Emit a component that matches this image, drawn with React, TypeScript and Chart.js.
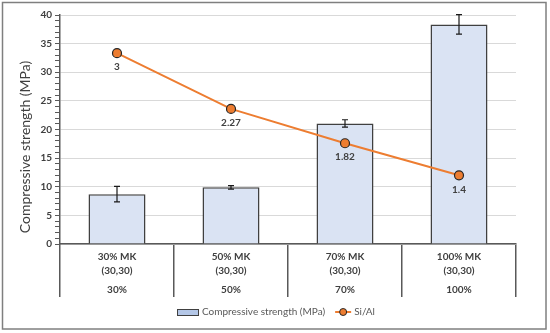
import React, { useEffect, useRef } from 'react';
import { Chart, registerables } from 'chart.js';
Chart.register(...registerables);

const categories = [
  ['30% MK', '(30,30)'],
  ['50% MK', '(30,30)'],
  ['70% MK', '(30,30)'],
  ['100% MK', '(30,30)'],
];
const groupLabels = ['30%', '50%', '70%', '100%'];
const strength = [8.7, 9.9, 21.05, 38.35];
const strengthErr = [1.35, 0.3, 0.65, 1.7];
const siAl = [3, 2.27, 1.82, 1.4];
const siAlLabels = ['3', '2.27', '1.82', '1.4'];
const seriesNames = ['Compressive strength (MPa)', 'Si/Al'];
const yTitle = 'Compressive strength (MPa)';

const FONT = 'Lato, "Open Sans", sans-serif';
const BAR_FILL = '#DAE3F3';
const BAR_EDGE = '#404040';
const LINE_COLOR = '#ED7D31';
const AXIS_COLOR = '#595959';
const TEXT_COLOR = '#404040';

const errorBarsPlugin = {
  id: 'errorBars',
  afterDatasetsDraw(chart: any) {
    const meta = chart.getDatasetMeta(0);
    const y = chart.scales.y;
    const ctx = chart.ctx;
    ctx.save();
    ctx.strokeStyle = '#1a1a1a';
    ctx.lineWidth = 1.2;
    meta.data.forEach((el: any, i: number) => {
      const v = strength[i];
      const e = strengthErr[i];
      const yt = y.getPixelForValue(v + e);
      const yb = y.getPixelForValue(v - e);
      const x = el.x;
      ctx.beginPath();
      ctx.moveTo(x, yt);
      ctx.lineTo(x, yb);
      ctx.moveTo(x - 3, yt);
      ctx.lineTo(x + 3, yt);
      ctx.moveTo(x - 3, yb);
      ctx.lineTo(x + 3, yb);
      ctx.stroke();
    });
    ctx.restore();
  },
};

const lineLabelsPlugin = {
  id: 'lineLabels',
  afterDatasetsDraw(chart: any) {
    const meta = chart.getDatasetMeta(1);
    const ctx = chart.ctx;
    ctx.save();
    ctx.font = `bold 10px ${FONT}`;
    ctx.fillStyle = TEXT_COLOR;
    ctx.textAlign = 'center';
    ctx.textBaseline = 'middle';
    meta.data.forEach((el: any, i: number) => {
      ctx.fillText(siAlLabels[i], el.x, el.y + 14);
    });
    ctx.restore();
  },
};

const framePlugin = {
  id: 'frame',
  afterDraw(chart: any) {
    const ctx = chart.ctx;
    ctx.save();
    ctx.strokeStyle = '#7f7f7f';
    ctx.lineWidth = 1.5;
    ctx.strokeRect(2.5, 2.5, 543.5, 326.5);
    ctx.fillStyle = TEXT_COLOR;
    ctx.font = `14px ${FONT}`;
    ctx.textAlign = 'center';
    ctx.textBaseline = 'middle';
    ctx.translate(25, 147);
    ctx.rotate(-Math.PI / 2);
    ctx.fillText(yTitle, 0, 0);
    ctx.restore();

    ctx.save();
    ctx.font = `10px ${FONT}`;
    ctx.textBaseline = 'middle';
    const ly = 312;
    const sw = 22;
    const t1 = ctx.measureText(seriesNames[0]).width;
    const t2 = ctx.measureText(seriesNames[1]).width;
    const total = sw + 3 + t1 + 10 + 16 + 3 + t2;
    let x = 276 - total / 2;
    ctx.fillStyle = '#B4C7E7';
    ctx.fillRect(x, ly - 3, sw, 6);
    ctx.strokeStyle = BAR_EDGE;
    ctx.lineWidth = 1;
    ctx.strokeRect(x + 0.5, ly - 2.5, sw - 1, 6);
    x += sw + 3;
    ctx.fillStyle = '#595959';
    ctx.fillText(seriesNames[0], x, ly);
    x += t1 + 10;
    ctx.strokeStyle = LINE_COLOR;
    ctx.lineWidth = 2;
    ctx.beginPath();
    ctx.moveTo(x, ly);
    ctx.lineTo(x + 16, ly);
    ctx.stroke();
    ctx.beginPath();
    ctx.arc(x + 8, ly, 3.5, 0, Math.PI * 2);
    ctx.fillStyle = LINE_COLOR;
    ctx.fill();
    ctx.strokeStyle = '#262626';
    ctx.lineWidth = 1;
    ctx.stroke();
    x += 16 + 3;
    ctx.fillStyle = '#595959';
    ctx.fillText(seriesNames[1], x, ly);
    ctx.restore();
  },
};

export default function App() {
  const ref = useRef<HTMLCanvasElement>(null);
  useEffect(() => {
    document.body.style.margin = '0';
    if (!ref.current) return;
    const chart = new Chart(ref.current, {
      type: 'bar',
      data: {
        labels: categories as any,
        datasets: [
          {
            type: 'bar',
            label: seriesNames[0],
            data: strength,
            backgroundColor: BAR_FILL,
            borderColor: BAR_EDGE,
            borderWidth: 1.5,
            barPercentage: 0.5,
            categoryPercentage: 1,
            xAxisID: 'x',
            yAxisID: 'y',
            order: 2,
          } as any,
          {
            type: 'line',
            label: seriesNames[1],
            data: siAl,
            borderColor: LINE_COLOR,
            borderWidth: 2,
            pointRadius: 4.5,
            pointBackgroundColor: LINE_COLOR,
            pointBorderColor: '#262626',
            pointBorderWidth: 1.2,
            tension: 0,
            xAxisID: 'x',
            yAxisID: 'y1',
            order: 1,
          } as any,
        ],
      },
      options: {
        responsive: false,
        animation: false,
        layout: { padding: { left: 0, right: 34, top: 15, bottom: 36 } },
        plugins: {
          legend: { display: false },
          tooltip: { enabled: false },
        },
        scales: {
          x: {
            type: 'category',
            position: 'bottom',
            offset: true,
            weight: 0,
            grid: {
              display: true,
              offset: true,
              drawOnChartArea: false,
              drawTicks: true,
              tickLength: 53,
              color: AXIS_COLOR,
              tickColor: AXIS_COLOR,
              lineWidth: 1.5,
              tickWidth: 1.5,
            },
            border: { display: true, color: AXIS_COLOR, width: 1.5 },
            ticks: {
              padding: -47,
              autoSkip: false,
              maxRotation: 0,
              color: TEXT_COLOR,
              font: { family: FONT, size: 10, weight: 'bold', lineHeight: 1.4 },
            },
            afterFit(scale: any) {
              scale.height = 36;
            },
          },
          x2: {
            type: 'category',
            position: 'bottom',
            labels: groupLabels,
            offset: true,
            weight: 1,
            grid: { display: false, drawTicks: false },
            border: { display: false },
            ticks: {
              padding: 3,
              autoSkip: false,
              maxRotation: 0,
              color: TEXT_COLOR,
              font: { family: FONT, size: 10, weight: 'bold', lineHeight: 1.4 },
            },
            afterFit(scale: any) {
              scale.height = 17;
            },
          },
          y: {
            type: 'linear',
            position: 'left',
            min: 0,
            max: 40,
            ticks: {
              stepSize: 1,
              autoSkip: false,
              padding: 3,
              color: TEXT_COLOR,
              font: { family: FONT, size: 10, weight: 'bold' },
              callback: (v: any) => (Number(v) % 5 === 0 ? String(v) : ''),
            },
            grid: {
              color: (c: any) => (c.tick && c.tick.value % 5 === 0 ? '#d9d9d9' : 'rgba(0,0,0,0)'),
              lineWidth: 1,
              tickColor: AXIS_COLOR,
              tickLength: 5,
              tickWidth: 1,
            },
            border: { display: true, color: AXIS_COLOR, width: 1.5 },
            afterFit(scale: any) {
              scale.width = 60;
            },
          },
          y1: {
            type: 'linear',
            display: false,
            min: 0.5,
            max: 3.5,
          },
        },
      } as any,
      plugins: [errorBarsPlugin, lineLabelsPlugin, framePlugin],
    });
    return () => chart.destroy();
  }, []);
  return (
    <canvas ref={ref} width={550} height={333} style={{ display: 'block', width: 550, height: 333 }} />
  );
}
